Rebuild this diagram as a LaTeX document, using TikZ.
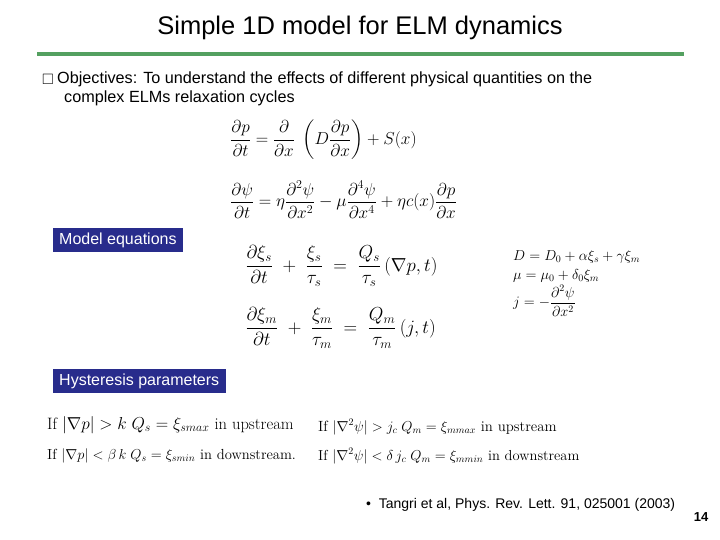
\documentclass[tikz,border=0pt]{standalone}
\usepackage{amsmath,amssymb}
\usepackage{graphicx}
\usepackage{fontspec}
\setsansfont{Liberation Sans}
\begin{document}
\begin{tikzpicture}[x=1pt,y=-1pt,
  txt/.style={font=\sffamily\fontsize{16.2}{18}\selectfont,anchor=west,inner sep=0},
  lab/.style={font=\sffamily\fontsize{16}{18}\selectfont,text=white,fill=navy,draw=white,anchor=west,inner xsep=7pt,inner ysep=1pt,minimum height=25pt},
  eq/.style={inner sep=0,font=\fontsize{16.5}{18}\selectfont}]
\definecolor{navy}{RGB}{40,44,140}
\definecolor{slidegreen}{RGB}{84,160,96}
\useasboundingbox (0,0) rectangle (720,540);
\node[font=\sffamily\fontsize{25.5}{30}\selectfont] (title) at (360,28) {Simple 1D model for ELM dynamics};
\draw[slidegreen,line width=4pt] (37,54) -- (684,54);
\node[anchor=west,inner sep=0,font=\fontsize{15}{17}\selectfont] (bul) at (42,79) {$\square$};
\node[txt] (o1) at (57,79) {Objectives: To understand the effects of\ different physical\ quantities on the};
\node[txt] (o2) at (64,98) {complex\ ELMs relaxation cycles};
\node[eq,anchor=west] (e1) at (230,140) {$\displaystyle \frac{\partial p}{\partial t} = \frac{\partial}{\partial x}\;\left(D\frac{\partial p}{\partial x}\right) + S(x)$};
\node[eq,anchor=west,font=\fontsize{18.4}{20}\selectfont] (e2) at (230,200) {$\displaystyle \frac{\partial \psi}{\partial t} = \eta\frac{\partial^2 \psi}{\partial x^2} - \mu\frac{\partial^4 \psi}{\partial x^4} + \eta c(x)\frac{\partial p}{\partial x}$};
\node[lab] (m) at (52,240) {Model equations};
\node[eq,anchor=west,font=\fontsize{18}{20}\selectfont] (e3) at (245,266) {\scalebox{1.09}{$\displaystyle \frac{\partial \xi_s}{\partial t} \;+\; \frac{\xi_s}{\tau_s} \;=\; \frac{Q_s}{\tau_s}\,(\nabla p, t)$}};
\node[eq,anchor=west,font=\fontsize{18}{20}\selectfont] (e4) at (245,328) {\scalebox{1.09}{$\displaystyle \frac{\partial \xi_m}{\partial t} \;+\; \frac{\xi_m}{\tau_m} \;=\; \frac{Q_m}{\tau_m}\,(j, t)$}};
\node[eq,anchor=west,font=\fontsize{14}{16}\selectfont,align=left] (e5) at (513,283) {$\begin{aligned}&D = D_0 + \alpha\xi_s + \gamma\xi_m\\[0pt]&\mu = \mu_0 + \delta_0\xi_m\\[-3pt]&j = -\frac{\partial^2\psi}{\partial x^2}\end{aligned}$};
\node[lab] (h) at (52,381) {Hysteresis parameters};
\node[eq,anchor=west,font=\fontsize{16.5}{18}\selectfont] (h1) at (47,425) {If $|\nabla p| > k\; Q_s = \xi_{smax}$ in upstream};
\node[eq,anchor=west,font=\fontsize{14.6}{18}\selectfont] (h2) at (47,456) {If $|\nabla p| < \beta\, k\; Q_s = \xi_{smin}$ in downstream.};
\node[eq,anchor=west,font=\fontsize{14.8}{18}\selectfont] (h3) at (318,427) {If $|\nabla^2\psi| > j_c\; Q_m = \xi_{mmax}$ in upstream};
\node[eq,anchor=west,font=\fontsize{14.5}{18}\selectfont] (h4) at (318,456) {If $|\nabla^2\psi| < \delta\, j_c\; Q_m = \xi_{mmin}$ in downstream};
\node[txt,font=\sffamily\fontsize{14}{16}\selectfont] (ref) at (366,505) {\textbullet\ \ Tangri et al, Phys. Rev. Lett. 91, 025001 (2003)};
\node[font=\sffamily\bfseries\fontsize{13}{15}\selectfont] (pg) at (701,517) {14};
\end{tikzpicture}
\end{document}
